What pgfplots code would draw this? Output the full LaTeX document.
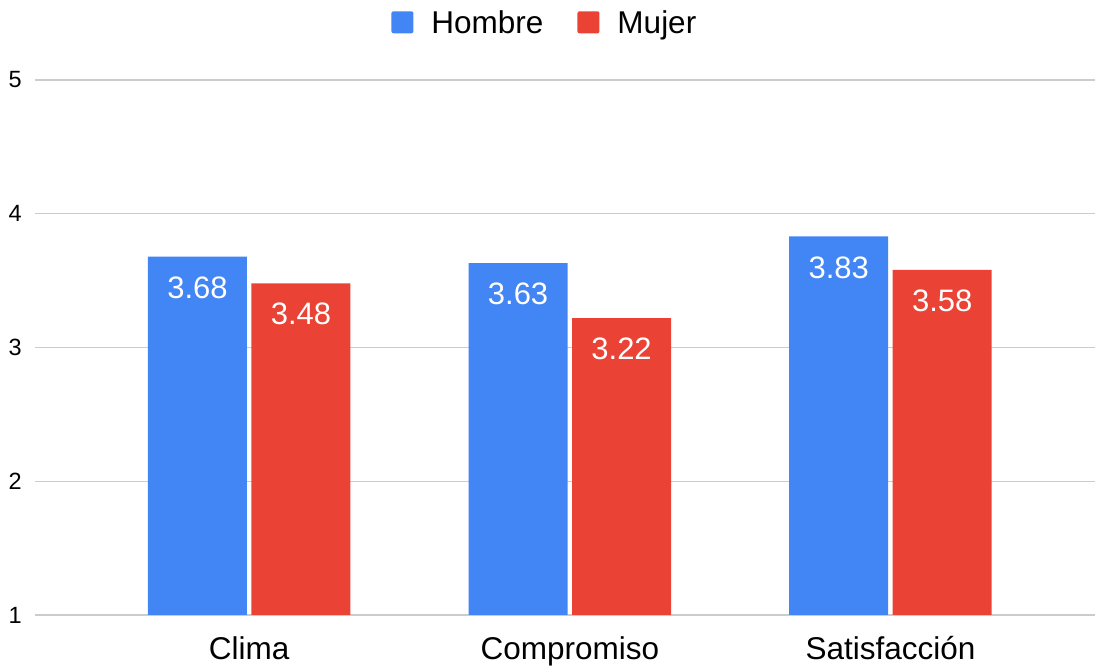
\documentclass[border=0pt]{standalone}
\usepackage{fontspec}
\setmainfont{Liberation Sans}
\usepackage{pgfplots}
\pgfplotsset{compat=1.18}
\definecolor{cblue}{HTML}{4285F4}
\definecolor{cred}{HTML}{EA4335}
\definecolor{cgrid}{HTML}{CCCCCC}
\begin{document}
\begin{tikzpicture}
\begin{axis}[name=ax, scale only axis, width=1060pt, height=535pt,
  ymin=1, ymax=5, ytick={1,2,3,4,5},
  xmin=-0.668, xmax=2.638,
  xtick={0,1,2}, xticklabels={Clima,Compromiso,Satisfacción},
  ybar=4.5pt, bar width=99pt,
  axis line style={draw=none}, major tick length=0pt,
  ymajorgrids, grid style={cgrid, line width=1.3pt},
  /pgf/number format/assume math mode=true,
  yticklabel style={font=\fontsize{23.5}{27}\selectfont, anchor=east, inner sep=0pt, xshift=-13pt},
  xticklabel style={font=\fontsize{31.5}{36}\selectfont, anchor=base, inner sep=0pt, yshift=-45pt},
  nodes near coords={\pgfmathprintnumber[fixed,fixed zerofill,precision=2]{\pgfplotspointmeta}},
  every node near coord/.append style={font=\fontsize{31}{36}\selectfont, text=white, anchor=center, yshift=-31pt},
  legend style={draw=none, at={(0.481,1.106)}, anchor=center, legend columns=2,
    font=\fontsize{31.5}{36}\selectfont,
    /tikz/every odd column/.append style={column sep=16pt},
    /tikz/every even column/.append style={column sep=32pt}},
  legend image code/.code={\fill[#1, draw=none, rounded corners=2pt] (0pt,-10pt) rectangle (22pt,12pt);},
]
\addplot[fill=cblue, draw=none] coordinates {(0,3.68) (1,3.63) (2,3.83)};
\addplot[fill=cred, draw=none] coordinates {(0,3.48) (1,3.22) (2,3.58)};
\legend{Hombre, Mujer}
\end{axis}
\pgfresetboundingbox
\path ([xshift=-35pt,yshift=-53pt]ax.south west) rectangle ([xshift=4pt,yshift=80pt]ax.north east);
\end{tikzpicture}
\end{document}
